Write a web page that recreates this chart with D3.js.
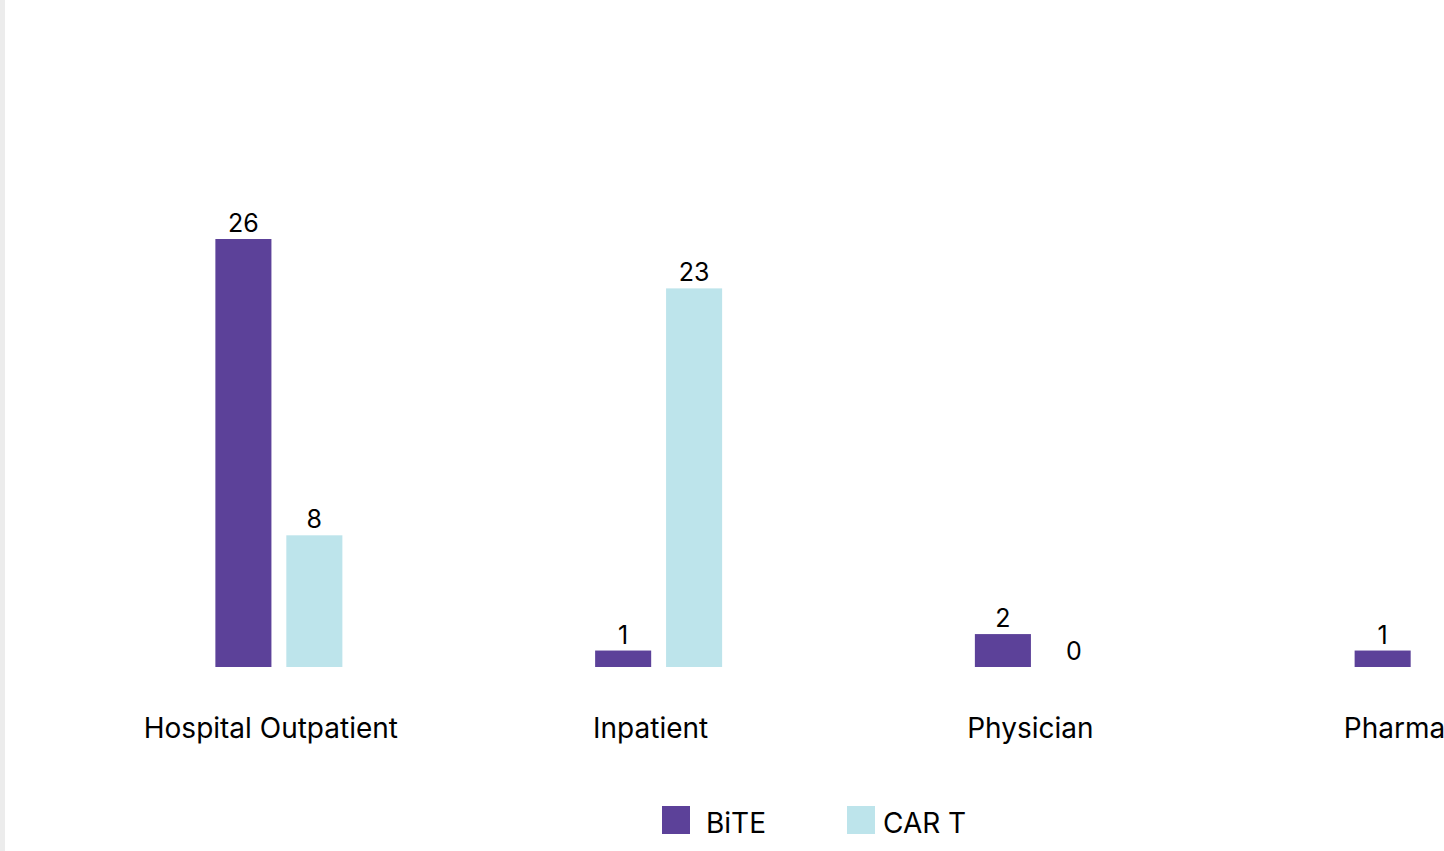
<!DOCTYPE html>
<html>
<head>
<meta charset="utf-8">
<script src="https://cdn.jsdelivr.net/npm/d3@7"></script>
<style>
  body { margin: 0; background: #fff; }
  svg { display: block; font-family: Inter, "Open Sans", sans-serif; }
</style>
</head>
<body>
<svg width="1444" height="851"></svg>
<script>
// chart data
var categories = ["Hospital Outpatient", "Inpatient", "Physician", "Pharmacy"];
var seriesNames = ["BiTE", "CAR T"];
var biteValues = [26, 1, 2, 1];
var cartValues = [8, 23, 0, 0];
var colors = ["#5c4199", "#bde4eb"];

var svg = d3.select("svg"),
    width = +svg.attr("width"),
    height = +svg.attr("height");

// thin grey strip on the left edge
svg.append("rect")
    .attr("x", 0).attr("y", 0)
    .attr("width", 5).attr("height", height)
    .attr("fill", "#ececec");

var baseline = 667;

var x = d3.scaleBand()
    .domain(categories)
    .range([89, 1608])
    .paddingInner(0)
    .paddingOuter(0);

var xs = d3.scaleBand()
    .domain(seriesNames)
    .range([0, 127])
    .paddingInner(0.21);

var y = d3.scaleLinear()
    .domain([0, 26])
    .range([baseline, 239]);

var rows = categories.map(function(c, i) {
  return { cat: c, values: [biteValues[i], cartValues[i]] };
});

var groups = svg.append("g")
  .selectAll("g")
  .data(rows)
  .enter().append("g")
    .attr("transform", function(d) {
      return "translate(" + (x(d.cat) + x.bandwidth() / 2 - 63.5) + ",0)";
    });

var bars = groups.selectAll("g.bar")
  .data(function(d) {
    return d.values.map(function(v, j) { return { name: seriesNames[j], value: v, j: j }; });
  })
  .enter().append("g").attr("class", "bar");

bars.append("rect")
    .attr("x", function(d) { return xs(d.name); })
    .attr("y", function(d) { return y(d.value); })
    .attr("width", xs.bandwidth())
    .attr("height", function(d) { return baseline - y(d.value); })
    .attr("fill", function(d) { return colors[d.j]; });

bars.append("text")
    .attr("x", function(d) { return xs(d.name) + xs.bandwidth() / 2; })
    .attr("y", function(d) { return y(d.value) - 7; })
    .attr("text-anchor", "middle")
    .style("font-size", "25px")
    .style("fill", "#000")
    .text(function(d) { return d.value; });

// category labels
svg.append("g")
  .selectAll("text")
  .data(categories)
  .enter().append("text")
    .attr("x", function(d) { return x(d) + x.bandwidth() / 2 - 8; })
    .attr("y", 738)
    .attr("text-anchor", "middle")
    .style("font-size", "28px")
    .style("fill", "#000")
    .text(function(d) { return d; });

// legend
var legend = svg.append("g")
  .selectAll("g")
  .data(seriesNames)
  .enter().append("g")
    .attr("transform", function(d, i) { return "translate(" + (662 + i * 185) + ",806)"; });

legend.append("rect")
    .attr("width", 28).attr("height", 28)
    .attr("fill", function(d, i) { return colors[i]; });

legend.append("text")
    .attr("x", function(d, i) { return i === 0 ? 44 : 36; })
    .attr("y", 27)
    .style("font-size", "28px")
    .style("fill", "#000")
    .text(function(d) { return d; });
</script>
</body>
</html>
